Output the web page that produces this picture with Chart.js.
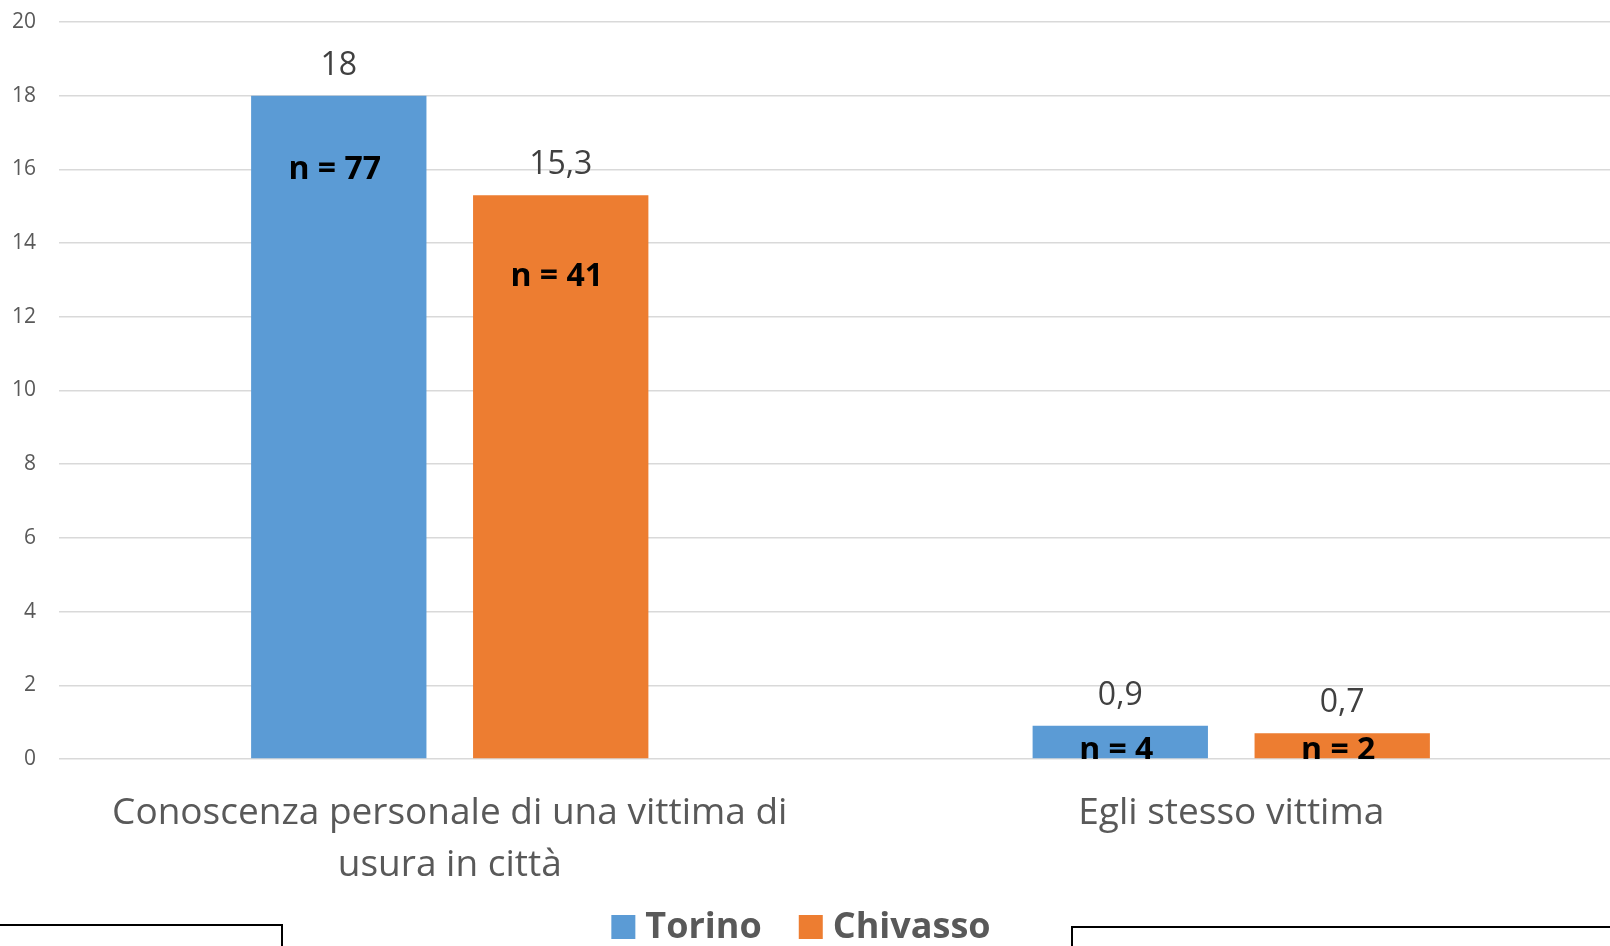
<!DOCTYPE html>
<html>
<head>
<meta charset="utf-8">
<script src="https://cdn.jsdelivr.net/npm/chart.js@4.4.1/dist/chart.umd.min.js"></script>
<style>
  html, body { margin: 0; padding: 0; background: #fff; overflow: hidden; width: 1610px; height: 946px; }
  #wrap { position: absolute; left: 0; top: 0; width: 1622px; height: 956px; }
  .box { position: absolute; border: 2px solid #000; background: #fff; height: 60px; }
</style>
</head>
<body>
<div id="wrap"><canvas id="chart"></canvas></div>
<div class="box" style="left:-3px; top:924px; width:282px;"></div>
<div class="box" style="left:1071px; top:926px; width:620px;"></div>
<script>
var categories = [['Conoscenza personale di una vittima di', 'usura in città'], 'Egli stesso vittima'];
var torino = [18, 0.9];
var chivasso = [15.3, 0.7];
var torinoN = [77, 4];
var chivassoN = [41, 2];
// where the "n = .." labels sit, in axis units
var torinoNAt = [16.0, 0.22];
var chivassoNAt = [13.08, 0.22];

var nLabels = [torinoN, chivassoN];
var nAnchors = [torinoNAt, chivassoNAt];

const labelPlugin = {
    id: 'barLabels',
    afterDatasetsDraw(chart) {
        const ctx = chart.ctx;
        const area = chart.chartArea;
        const y = chart.scales.y;
        chart.data.datasets.forEach(function (ds, di) {
            const meta = chart.getDatasetMeta(di);
            meta.data.forEach(function (bar, i) {
                ctx.save();
                ctx.textAlign = 'center';
                ctx.textBaseline = 'middle';
                ctx.fillStyle = '#404040';
                ctx.font = '32px "Open Sans"';
                ctx.fillText(String(ds.data[i]).replace('.', ','), bar.x, bar.y - 30);
                ctx.beginPath();
                ctx.rect(area.left, area.top, area.right - area.left, area.bottom - area.top);
                ctx.clip();
                ctx.fillStyle = '#000';
                ctx.font = 'bold 32px "Open Sans"';
                ctx.fillText('n = ' + nLabels[di][i], bar.x - 4, y.getPixelForValue(nAnchors[di][i]));
                ctx.restore();
            });
        });

        // legend, centred under the visible picture
        ctx.save();
        ctx.font = 'bold 36px "Open Sans"';
        ctx.textBaseline = 'middle';
        ctx.textAlign = 'left';
        const box = 24, gap = 10, between = 37;
        const items = chart.data.datasets.map(function (ds) {
            return { text: ds.label, color: ds.backgroundColor, w: ctx.measureText(ds.label).width };
        });
        let total = 0;
        items.forEach(function (it, k) { total += box + gap + it.w + (k ? between : 0); });
        let x = 801 - total / 2;
        const cy = 927;
        items.forEach(function (it) {
            ctx.fillStyle = it.color;
            ctx.fillRect(x, cy - box / 2, box, box);
            ctx.fillStyle = '#595959';
            ctx.fillText(it.text, x + box + gap, cy + 1);
            x += box + gap + it.w + between;
        });
        ctx.restore();
    }
};

new Chart(document.getElementById('chart'), {
    type: 'bar',
    data: {
        labels: categories,
        datasets: [{
            label: 'Torino',
            data: torino,
            backgroundColor: '#5B9BD5',
            borderWidth: 0
        },
        {
            label: 'Chivasso',
            data: chivasso,
            backgroundColor: '#ED7D31',
            borderWidth: 0
        }]
    },
    options: {
        responsive: true,
        maintainAspectRatio: false,
        animation: false,
        datasets: {
            bar: { categoryPercentage: 0.568, barPercentage: 0.79 }
        },
        layout: { padding: { top: 22, left: 0, right: 0, bottom: 55 } },
        plugins: {
            legend: { display: false },
            tooltip: { enabled: false }
        },
        scales: {
            x: {
                grid: { display: false, drawTicks: false },
                border: { display: false },
                ticks: {
                    color: '#595959',
                    padding: 29,
                    maxRotation: 0,
                    font: { family: 'Open Sans', size: 37, lineHeight: 1.4 }
                },
                afterFit: function (scale) { scale.height = 142; }
            },
            y: {
                min: 0,
                max: 20,
                ticks: {
                    stepSize: 2,
                    color: '#595959',
                    padding: 23,
                    font: { family: 'Open Sans', size: 21 }
                },
                grid: { color: '#d9d9d9', lineWidth: 1.5, drawTicks: false },
                border: { display: false },
                afterFit: function (scale) {
                    scale.width = 59;
                    scale.paddingTop = 0;
                    scale.paddingBottom = 0;
                }
            }
        }
    },
    plugins: [labelPlugin]
});
</script>
</body>
</html>
